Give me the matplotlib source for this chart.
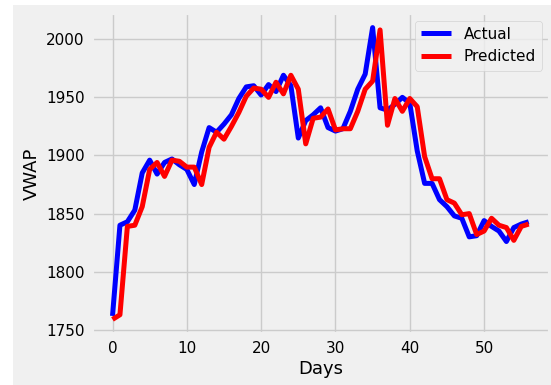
import numpy as np
import matplotlib
matplotlib.use("Agg")
import matplotlib.pyplot as plt
from matplotlib.patches import Rectangle

# VWAP values, one per day
actual = [1762, 1840, 1843, 1853, 1885, 1896, 1884, 1894, 1897, 1892,
          1888, 1875, 1903, 1924, 1920, 1927, 1935, 1949, 1959, 1960,
          1952, 1961, 1955, 1969, 1960, 1915, 1930, 1935, 1941, 1924,
          1921, 1923, 1938, 1957, 1970, 2010, 1941, 1939, 1944, 1950,
          1945, 1904, 1876, 1876, 1862, 1856, 1848, 1846, 1830, 1831,
          1844, 1839, 1835, 1826, 1838, 1841, 1843]
predicted = [1759, 1763, 1839, 1840, 1856, 1888, 1894, 1882, 1896, 1895,
             1890, 1890, 1875, 1907, 1920, 1914, 1925, 1937, 1951, 1958,
             1957, 1950, 1963, 1953, 1969, 1957, 1910, 1932, 1933, 1940,
             1922, 1923, 1923, 1938, 1957, 1964, 2008, 1926, 1949, 1938,
             1949, 1942, 1899, 1880, 1880, 1862, 1859, 1849, 1850, 1832,
             1835, 1846, 1840, 1838, 1827, 1839, 1841]
days = np.arange(len(actual))

plt.style.use("fivethirtyeight")

W, H = 551, 385
fig = plt.figure(figsize=(W / 100, H / 100), dpi=100)
fig.patch.set_facecolor("white")
# grey figure area, the reference has a thin white strip on the left and top
fig.patches.append(Rectangle((13 / W, 0), 1 - 13 / W, 1 - 5 / H,
                             transform=fig.transFigure, facecolor="#f0f0f0",
                             edgecolor="none", zorder=-10))

ax = fig.add_axes([91.7 / W, 51 / H, (549.5 - 91.7) / W, (334 - 13) / H])
ax.plot(days, actual, color="blue", linewidth=3.6, label="Actual")
ax.plot(days, predicted, color="red", linewidth=3.6, label="Predicted")

ax.set_xlabel("Days", fontsize=13, labelpad=3)
ax.set_ylabel("VWAP", fontsize=13, labelpad=4)
ax.tick_params(labelsize=11, pad=5)
ax.set_xticks([0, 10, 20, 30, 40, 50])
ax.set_yticks([1750, 1800, 1850, 1900, 1950, 2000])
ax.legend(loc="upper right", fontsize=11)

fig.savefig("out.png", dpi=100, facecolor="white")
